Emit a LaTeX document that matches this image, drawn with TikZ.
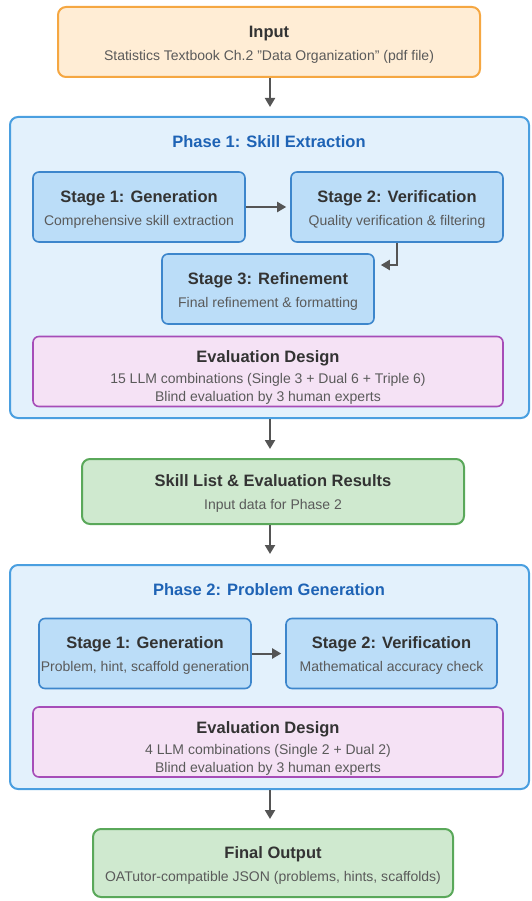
\documentclass[tikz,border=0pt]{standalone}
\usepackage{fontspec}
\setmainfont{Liberation Sans}
\usepackage{tikz}
\usetikzlibrary{arrows.meta,positioning}

\definecolor{inFill}{HTML}{FFEDD5}
\definecolor{inLine}{HTML}{F5A742}
\definecolor{phFill}{HTML}{E3F1FC}
\definecolor{phLine}{HTML}{4A9FE0}
\definecolor{stFill}{HTML}{BBDDF8}
\definecolor{stLine}{HTML}{3D86CC}
\definecolor{evFill}{HTML}{F5E2F5}
\definecolor{evLine}{HTML}{A64DB8}
\definecolor{okFill}{HTML}{CFE9CF}
\definecolor{okLine}{HTML}{5AA85A}
\definecolor{headTxt}{HTML}{333333}
\definecolor{subTxt}{HTML}{5A5A5A}
\definecolor{phTxt}{HTML}{1E63B5}
\definecolor{arrowGray}{HTML}{555555}

\newcommand{\boxhead}[1]{{\fontsize{16.5}{20}\selectfont\bfseries\color{headTxt}#1}}
\newcommand{\boxtext}[1]{{\color{subTxt}#1}}
\newcommand{\topgap}[1]{\rule{0pt}{#1}}

\begin{document}
\begin{tikzpicture}[x=1pt, y=-1pt,
    font=\fontsize{14}{18}\selectfont,
    box/.style={draw, rounded corners=8pt, line width=2pt, align=center, inner sep=0pt},
    inbox/.style={box, fill=inFill, draw=inLine},
    phasebox/.style={box, fill=phFill, draw=phLine},
    stagebox/.style={box, fill=stFill, draw=stLine, rounded corners=6pt, line width=1.6pt,
      minimum width=212pt, minimum height=70pt},
    evalbox/.style={box, fill=evFill, draw=evLine, rounded corners=6pt, line width=1.6pt,
      minimum width=470pt, minimum height=70pt},
    okbox/.style={box, fill=okFill, draw=okLine},
    phasetitle/.style={font=\fontsize{16.5}{20}\selectfont\bfseries, text=phTxt},
    flow/.style={draw=arrowGray, line width=2pt, -{Triangle[length=9pt,width=10pt]}}]
  \useasboundingbox (0,0) rectangle (532,901);

  % input
  \node[inbox, minimum width=422pt, minimum height=70pt] (input) at (269,42)
    {\topgap{16pt}\boxhead{Input}\\[5pt]\boxtext{Statistics Textbook Ch.2 "Data Organization" (pdf file)}};

  % phase 1
  \node[phasebox, minimum width=519pt, minimum height=301pt] (phaseA) at (269.5,267.5) {};
  \node[phasetitle] (phaseAtitle) at (269,142) {Phase 1: Skill Extraction};
  \node[stagebox] (genA) at (139,207)
    {\topgap{16pt}\boxhead{Stage 1: Generation}\\[5pt]\boxtext{Comprehensive skill extraction}};
  \node[stagebox] (verA) at (397,207)
    {\topgap{16pt}\boxhead{Stage 2: Verification}\\[5pt]\boxtext{Quality verification \& filtering}};
  \node[stagebox] (refA) at (268,289)
    {\topgap{16pt}\boxhead{Stage 3: Refinement}\\[5pt]\boxtext{Final refinement \& formatting}};
  \node[evalbox] (evalA) at (268,371.5)
    {\topgap{24pt}\boxhead{Evaluation Design}\\[3pt]\boxtext{15 LLM combinations (Single 3 + Dual 6 + Triple 6)}\\
     \boxtext{Blind evaluation by 3 human experts}};

  % skill list
  \node[okbox, minimum width=382pt, minimum height=65pt] (skills) at (273,491.5)
    {\topgap{16pt}\boxhead{Skill List \& Evaluation Results}\\[5pt]\boxtext{Input data for Phase 2}};

  % phase 2
  \node[phasebox, minimum width=519pt, minimum height=224pt] (phaseB) at (269.5,677) {};
  \node[phasetitle] (phaseBtitle) at (269,590) {Phase 2: Problem Generation};
  \node[stagebox] (genB) at (145,653.5)
    {\topgap{16pt}\boxhead{Stage 1: Generation}\\[5pt]\boxtext{Problem, hint, scaffold generation}};
  \node[stagebox, minimum width=211pt] (verB) at (391.5,653.5)
    {\topgap{16pt}\boxhead{Stage 2: Verification}\\[5pt]\boxtext{Mathematical accuracy check}};
  \node[evalbox] (evalB) at (268,742)
    {\topgap{24pt}\boxhead{Evaluation Design}\\[3pt]\boxtext{4 LLM combinations (Single 2 + Dual 2)}\\
     \boxtext{Blind evaluation by 3 human experts}};

  % output
  \node[okbox, minimum width=360pt, minimum height=68pt] (final) at (273,863)
    {\topgap{16pt}\boxhead{Final Output}\\[5pt]\boxtext{OATutor-compatible JSON (problems, hints, scaffolds)}};

  % arrows
  \draw[flow, shorten >=10pt] (input.south -| 270,0) -- (270,117);
  \draw[flow, shorten >=4pt] (genA) -- (verA);
  \draw[flow, shorten >=6pt] (verA.south) |- ([yshift=24pt]refA.east);
  \draw[flow, shorten >=9pt] (phaseA.south -| 270,0) -- (skills.north -| 270,0);
  \draw[flow, shorten >=10pt] (skills.south -| 270,0) -- (phaseB.north -| 270,0);
  \draw[flow, shorten >=4pt] (genB) -- (verB);
  \draw[flow, shorten >=9pt] (phaseB.south -| 270,0) -- (final.north -| 270,0);
\end{tikzpicture}
\end{document}
